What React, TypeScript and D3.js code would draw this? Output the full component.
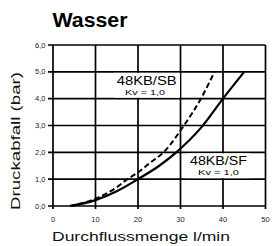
import React from 'react';
import * as d3 from 'd3';

// Water pressure drop curves
const flowSF = [4, 10, 15, 20, 25, 29, 35, 40, 45];
const dropSF = [0, 0.22, 0.55, 1.0, 1.5, 2.0, 2.95, 4.0, 5.0];
const flowSB = [4, 10, 15, 17.5, 20, 23, 26, 30.8, 34.8, 38];
const dropSB = [0, 0.27, 0.7, 1.0, 1.25, 1.63, 2.0, 3.0, 4.0, 5.0];

const xTicks = [0, 10, 20, 30, 40, 50];
const yTicks = [0, 1, 2, 3, 4, 5, 6];
const yTickLabels = ['0,0', '1,0', '2,0', '3,0', '4,0', '5,0', '6,0'];

const FONT = 'Liberation Sans, Arial, Helvetica, sans-serif';

export default function App() {
  const width = 275;
  const height = 246;
  const margin = { top: 45, right: 9.5, bottom: 40, left: 53 };

  const x = d3.scaleLinear().domain([0, 50]).range([margin.left, width - margin.right]);
  const y = d3.scaleLinear().domain([0, 6]).range([height - margin.bottom, margin.top]);

  const line = d3.line<[number, number]>()
    .x(d => x(d[0]))
    .y(d => y(d[1]))
    .curve(d3.curveMonotoneX);

  const sf = flowSF.map((q, i) => [q, dropSF[i]] as [number, number]);
  const sb = flowSB.map((q, i) => [q, dropSB[i]] as [number, number]);

  return (
    <svg
      width={width}
      height={height}
      style={{ position: 'absolute', left: 0, top: 0, background: '#fff' }}
      fontFamily={FONT}
    >
      <rect x={0} y={0} width={width} height={height} fill="#fff" />
      <text x={52.5} y={26.7} fontSize={20} fontWeight="bold" textLength={75} lengthAdjust="spacingAndGlyphs">
        Wasser
      </text>

      {/* grid */}
      {xTicks.map(t => (
        <line key={'gx' + t} x1={x(t)} x2={x(t)} y1={y(6)} y2={y(0) + 3} stroke="#000" strokeWidth={1.7} />
      ))}
      {yTicks.map(t => (
        <line key={'gy' + t} x1={x(0) - 5} x2={x(50)} y1={y(t)} y2={y(t)} stroke="#000" strokeWidth={1.7} />
      ))}

      {/* tick labels */}
      {xTicks.map(t => (
        <text key={'lx' + t} x={x(t)} y={221.7} fontSize={7.5} textAnchor="middle" fill="#222">
          {t}
        </text>
      ))}
      {yTicks.map((t, i) => (
        <text key={'ly' + t} x={45.5} y={y(t) + 2.6} fontSize={7.5} textAnchor="end" fill="#222">
          {yTickLabels[i]}
        </text>
      ))}

      {/* label boxes */}
      <rect x={114} y={y(5) + 1} width={66} height={y(4) - y(5) - 2} fill="#fff" />
      <rect x={186} y={y(2) + 1} width={64} height={y(1) - y(2) - 2} fill="#fff" />

      {/* curves */}
      <path d={line(sb) ?? ''} fill="none" stroke="#000" strokeWidth={2} strokeDasharray="5.5,3" />
      <path d={line(sf) ?? ''} fill="none" stroke="#000" strokeWidth={2.2} />

      {/* series labels */}
      <text x={116.7} y={85.2} fontSize={12.5} textLength={60} lengthAdjust="spacingAndGlyphs">48KB/SB</text>
      <text x={125} y={95} fontSize={8} textLength={40} lengthAdjust="spacingAndGlyphs">Kv = 1,0</text>
      <text x={190} y={165.2} fontSize={12.5} textLength={57} lengthAdjust="spacingAndGlyphs">48KB/SF</text>
      <text x={198} y={175} fontSize={8} textLength={41} lengthAdjust="spacingAndGlyphs">Kv = 1,0</text>

      {/* axis titles */}
      <text x={52} y={241} fontSize={13.5} textLength={178} lengthAdjust="spacingAndGlyphs" fill="#111">
        Durchflussmenge l/min
      </text>
      <text
        transform={`translate(19.5, ${141}) rotate(-90)`}
        fontSize={13.5}
        textAnchor="middle"
        textLength={138}
        lengthAdjust="spacingAndGlyphs"
        fill="#111"
      >
        Druckabfall (bar)
      </text>
    </svg>
  );
}
